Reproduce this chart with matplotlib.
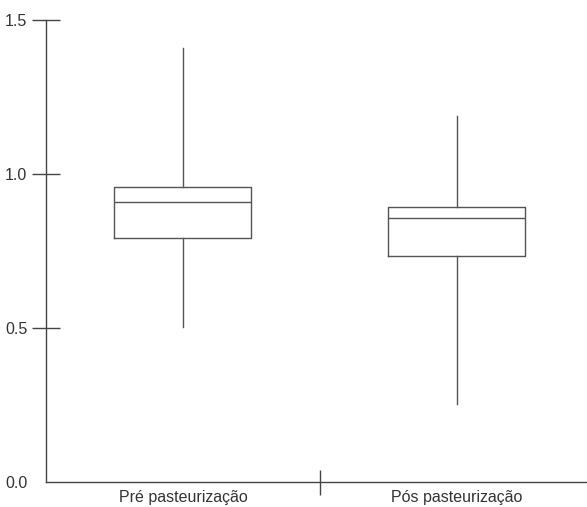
import matplotlib
matplotlib.use("Agg")
import matplotlib.pyplot as plt

plt.rcParams['font.family'] = ['Liberation Sans', 'DejaVu Sans']

categories = ["Pré pasteurização", "Pós pasteurização"]
# min, q1, median, q3, max
mins = [0.504, 0.254]
q1s = [0.793, 0.733]
medians = [0.909, 0.858]
q3s = [0.958, 0.893]
maxs = [1.409, 1.188]
yticks = [0.0, 0.5, 1.0, 1.5]

stats = []
for i in range(len(categories)):
    stats.append({"label": categories[i], "whislo": mins[i], "q1": q1s[i],
                  "med": medians[i], "q3": q3s[i], "whishi": maxs[i]})

lc = "#555555"
fig = plt.figure(figsize=(5.87, 5.07), dpi=100)
ax = fig.add_axes([46/587, 25.3/507, 548/587, 461.7/507])

ax.bxp(stats, positions=[0.5, 1.5], widths=0.5, showfliers=False, showcaps=False,
       boxprops=dict(color=lc, linewidth=1.0),
       whiskerprops=dict(color=lc, linewidth=1.0),
       medianprops=dict(color=lc, linewidth=1.0))

ax.set_xlim(0, 2)
ax.set_ylim(0, 1.5)
ax.spines['top'].set_visible(False)
ax.spines['right'].set_visible(False)
for s in ['left', 'bottom']:
    ax.spines[s].set_color("#444444")
    ax.spines[s].set_linewidth(1.0)

ax.set_yticks(yticks)
ax.set_yticklabels(["%.1f" % v for v in yticks])
ax.tick_params(axis='y', direction='inout', length=20, width=1.0, color="#444444",
               labelsize=11.5, labelcolor="#333333", pad=3.5)
ax.yaxis.get_major_ticks()[0].tick1line.set_visible(False)

ax.set_xticks([0.5, 1.5])
ax.set_xticklabels(categories)
ax.tick_params(axis='x', length=0, labelsize=11.5, labelcolor="#333333", pad=6)
ax.set_xticks([1.0], minor=True)
ax.tick_params(axis='x', which='minor', direction='inout', length=18, width=1.0,
               color="#444444")

fig.savefig("out.png", dpi=100)
